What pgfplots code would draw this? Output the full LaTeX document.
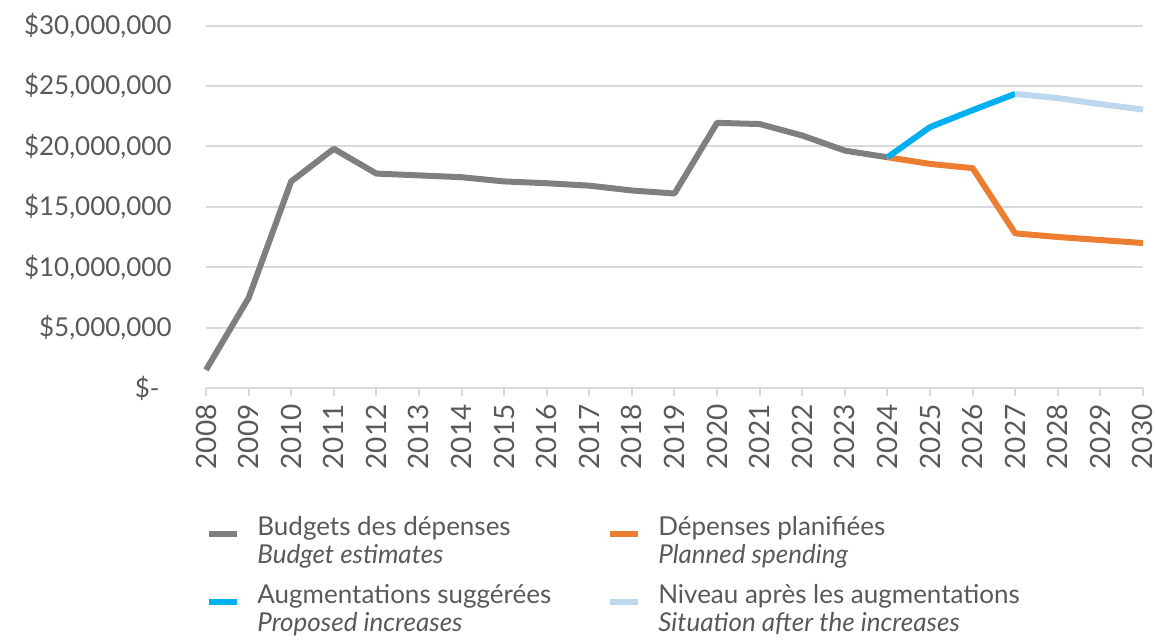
\documentclass[border=0pt]{standalone}
\usepackage{fontspec}
\setmainfont{Lato}
\usepackage{pgfplots}
\pgfplotsset{compat=1.18}
\definecolor{txt}{HTML}{595959}
\definecolor{gridc}{HTML}{D9D9D9}
\definecolor{cgray}{HTML}{7F7F7F}
\definecolor{corange}{HTML}{ED7D31}
\definecolor{cblue}{HTML}{00B0F0}
\definecolor{clight}{HTML}{BDD7EE}
\newcommand{\legtxt}[2]{\begin{tabular}{@{}l@{}}#1\\\textit{#2}\end{tabular}}
\begin{document}
\begin{tikzpicture}
\begin{axis}[
  name=ax, at={(0,0)}, anchor=south west,
  scale only axis, width=468.5pt, height=181.2pt,
  xmin=2008, xmax=2030, ymin=0, ymax=30000000,
  clip=false,
  axis x line*=bottom, axis y line*=left,
  y axis line style={draw=none},
  x axis line style={gridc, line width=1pt},
  xtick={2008,...,2030},
  ytick={0,5000000,10000000,15000000,20000000,25000000,30000000},
  yticklabels={{\$-\rule{6pt}{0pt}},{\$5,000,000},{\$10,000,000},{\$15,000,000},{\$20,000,000},{\$25,000,000},{\$30,000,000}},
  scaled y ticks=false,
  ymajorgrids, grid style={gridc, line width=1pt},
  xtick style={gridc, line width=1pt}, ytick style={draw=none},
  tick align=outside, major tick length=4pt,
  /pgf/number format/assume math mode=true,
  xticklabel style={rotate=90, anchor=east, font=\fontsize{14}{16}\selectfont, text=txt, /pgf/number format/1000 sep={}, inner sep=4pt},
  yticklabel style={font=\fontsize{13}{15}\selectfont, text=txt, inner sep=0pt, xshift=-13pt},
  legend columns=2,
  legend cell align=left,
  legend image code/.code={\draw[#1, line width=3pt] (0pt,0pt) -- (14pt,0pt);},
  legend style={at={(0,-0.34)}, anchor=north west, draw=none, fill=none,
    font=\fontsize{13}{14}\selectfont, text=txt, inner sep=0pt, row sep=11.5pt,
    /tikz/every odd column/.style={column sep=6.5pt},
    /tikz/every even column/.style={column sep=26pt}},
]
\addplot[cgray, line width=3pt, line join=round] coordinates {
(2008,1500000) (2009,7450000) (2010,17100000) (2011,19800000) (2012,17750000)
(2013,17600000) (2014,17450000) (2015,17100000) (2016,16950000) (2017,16750000)
(2018,16350000) (2019,16100000) (2020,21950000) (2021,21850000) (2022,20900000)
(2023,19650000) (2024,19100000)};
\addlegendentry{\legtxt{Budgets des dépenses}{Budget estimates}}
\addplot[corange, line width=3pt, line join=round] coordinates {
(2024,19100000) (2025,18550000) (2026,18200000) (2027,12800000) (2028,12500000)
(2029,12250000) (2030,12000000)};
\addlegendentry{\legtxt{Dépenses planifiées}{Planned spending}}
\addplot[cblue, line width=3pt, line join=round] coordinates {
(2024,19100000) (2025,21600000) (2026,23000000) (2027,24350000)};
\addlegendentry{\legtxt{Augmentations suggérées}{Proposed increases}}
\addplot[clight, line width=3pt, line join=round] coordinates {
(2027,24350000) (2028,24000000) (2029,23500000) (2030,23050000)};
\addlegendentry{\legtxt{Niveau après les augmentations}{Situation after the increases}}
\end{axis}
\pgfresetboundingbox
\path[use as bounding box] (-103pt,-126.5pt) rectangle (475pt,194pt);
\end{tikzpicture}
\end{document}
